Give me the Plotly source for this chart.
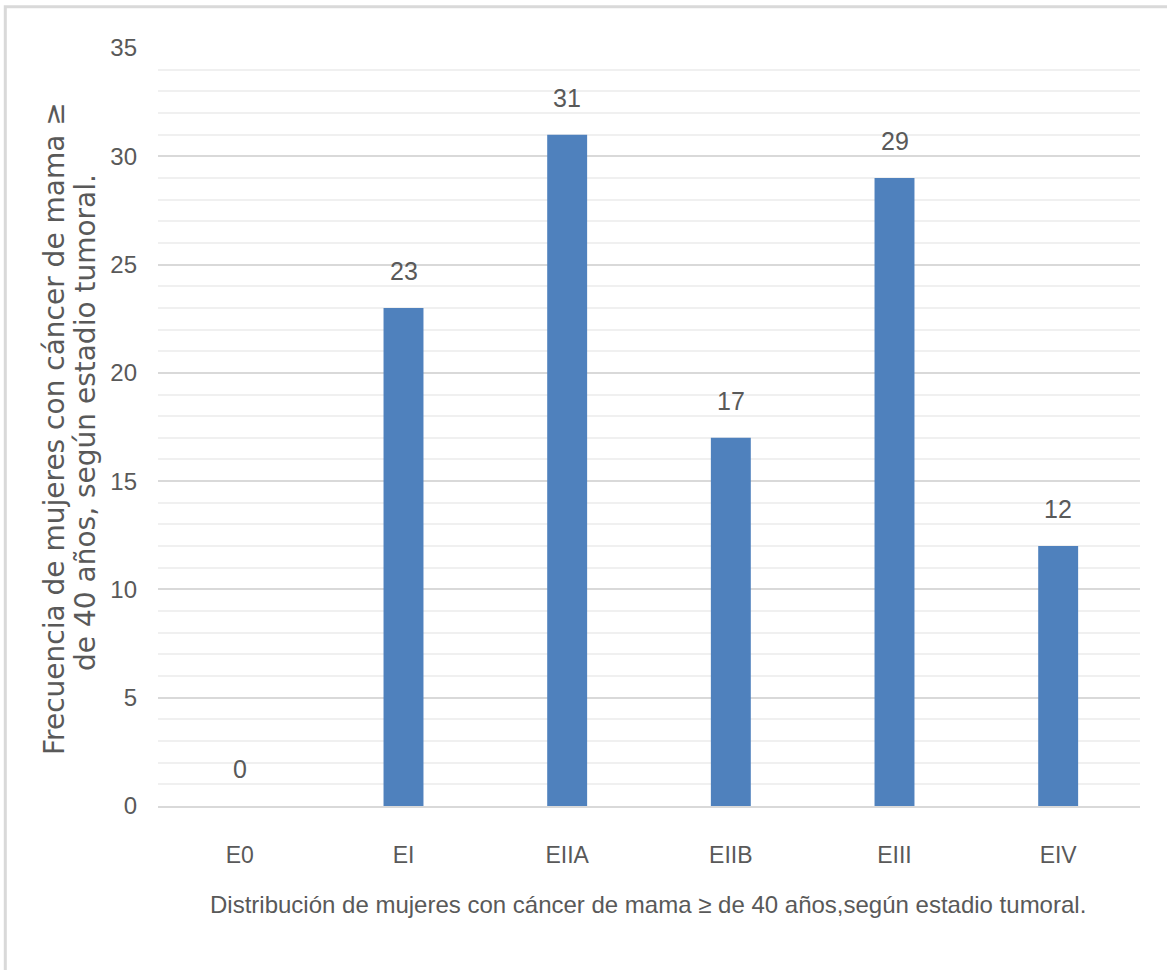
import plotly.graph_objects as go

# Stage categories and counts
estadios = ["E0", "EI", "EIIA", "EIIB", "EIII", "EIV"]
frecuencias = [0, 23, 31, 17, 29, 12]

y_ticks = [0, 5, 10, 15, 20, 25, 30, 35]

titulo_x = "Distribución de mujeres con cáncer de mama ≥ de 40 años,según estadio tumoral."
titulo_y_l1 = "Frecuencia de mujeres con cáncer de mama ≥"
titulo_y_l2 = "de 40 años, según estadio tumoral."

SANS = "Liberation Sans, Arial, sans-serif"
WIDE = "DejaVu Sans, Verdana, sans-serif"
TEXT_GRAY = "#595959"
BAR_BLUE = "#4f81bd"

fig = go.Figure(
    go.Bar(
        x=estadios,
        y=frecuencias,
        marker=dict(color=BAR_BLUE, line=dict(width=0)),
        hoverinfo="x+y",
    )
)

# value labels above each bar
for cat, val in zip(estadios, frecuencias):
    fig.add_annotation(
        x=cat, y=val, text=str(val), showarrow=False,
        yanchor="bottom", yshift=21,
        font=dict(family=SANS, size=25, color=TEXT_GRAY),
    )

# y-axis title, two rotated lines
for txt, px, py in [(titulo_y_l1, -0.1049, 0.4987), (titulo_y_l2, -0.0734, 0.5066)]:
    fig.add_annotation(
        x=px, y=py, xref="paper", yref="paper", text=txt,
        textangle=-90, showarrow=False, xanchor="center", yanchor="middle",
        font=dict(family=WIDE, size=28, color=TEXT_GRAY),
    )

# x-axis title
fig.add_annotation(
    x=0.499, y=-0.13, xref="paper", yref="paper", text=titulo_x,
    showarrow=False, xanchor="center", yanchor="middle",
    font=dict(family=SANS, size=24, color=TEXT_GRAY),
)

# outer chart frame
fig.add_shape(
    type="rect", xref="paper", yref="paper",
    x0=-0.1555, y0=-0.4, x1=1.2, y1=1.0545,
    line=dict(color="#d9d9d9", width=3), fillcolor="rgba(0,0,0,0)", layer="below",
)

fig.update_layout(
    width=1167, height=970,
    margin=dict(l=158, r=27, t=48, b=164),
    paper_bgcolor="white", plot_bgcolor="white",
    bargap=0.756,
    showlegend=False,
    font=dict(family=SANS, color=TEXT_GRAY, size=22),
)

fig.update_xaxes(
    showgrid=False, showline=True, linecolor="#d9d9d9", linewidth=2,
    ticks="", ticklabelstandoff=27,
    tickfont=dict(family=SANS, size=23, color=TEXT_GRAY),
)
fig.update_yaxes(
    range=[0, 35], tickvals=y_ticks, showline=False, zeroline=False,
    showgrid=True, gridcolor="#d9d9d9", gridwidth=1.5,
    minor=dict(dtick=1, showgrid=True, gridcolor="#f0f0f0", gridwidth=1.5),
    ticks="", ticklabelstandoff=20,
    tickfont=dict(family=SANS, size=24, color=TEXT_GRAY),
)

fig.write_html("out.html")
